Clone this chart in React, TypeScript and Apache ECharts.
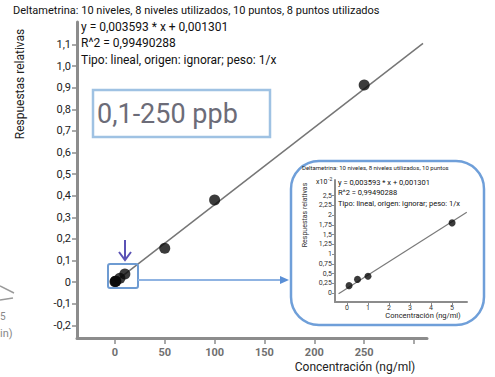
import React, { useEffect, useRef } from "react";
import * as echarts from "echarts";

// Main calibration (ng/ml vs relative response)
const mainX = [0.1, 0.5, 1, 5, 10, 50, 100, 250];
const mainY = [0.0019, 0.0035, 0.0043, 0.018, 0.037, 0.157, 0.38, 0.912];
const mainLineX = [0, 309];
const mainLineY = [0.001, 1.105];
const mainXTicks = [0, 50, 100, 150, 200, 250, 300];
const mainXLabels = [0, 50, 100, 150, 200, 250];
const mainYTicks = [-0.2, -0.1, 0, 0.1, 0.2, 0.3, 0.4, 0.5, 0.6, 0.7, 0.8, 0.9, 1.0, 1.1];

// Inset (x10^-2)
const insetX = [0.1, 0.5, 1, 5];
const insetY = [0.19, 0.35, 0.43, 1.8];
const insetLineX = [-0.4, 5.7];
const insetLineY = [-0.02, 2.07];
const insetXTicks = [0, 1, 2, 3, 4, 5];
const insetYTicks = [0, 0.25, 0.5, 0.75, 1, 1.25, 1.5, 1.75, 2, 2.25, 2.5];

const titleMain = "Deltametrina: 10 niveles, 8 niveles utilizados, 10 puntos, 8 puntos utilizados";
const titleInset = "Deltametrina: 10 niveles, 8 niveles utilizados, 10 puntos";
const eqLines = ["y = 0,003593 * x + 0,001301", "R^2 = 0,99490288", "Tipo: lineal, origen: ignorar; peso: 1/x"];
const rangeText = "0,1-250 ppb";
const yName = "Respuestas relativas";
const xName = "Concentración (ng/ml)";

const FONT = "Roboto, 'Noto Sans', sans-serif";

export default function App() {
  const ref = useRef<HTMLDivElement>(null);
  useEffect(() => {
    if (!ref.current) return;
    const chart = echarts.init(ref.current, null, { renderer: "svg" });
    const fmtMain = (v: number) => (Math.abs(v) < 1e-9 ? "0" : v.toFixed(1).replace(".", ","));
    const fmtInset = (v: number) => String(v).replace(".", ",");
    const axisGray = "#8c8c8c";
    const option: any = {
      animation: false,
      backgroundColor: "#ffffff",
      textStyle: { fontFamily: FONT },
      grid: [
        { left: 77, top: 22, width: 350, height: 316 },
        { left: 335, top: 180, width: 132, height: 122, z: 10 },
      ],
      xAxis: [
        {
          type: "value", gridIndex: 0, min: -38, max: 313,
          splitLine: { show: false },
          axisLine: { onZero: false, lineStyle: { color: axisGray, width: 3 } },
          axisTick: { customValues: mainXTicks, length: 6, lineStyle: { color: axisGray, width: 1.5 } },
          axisLabel: { customValues: mainXLabels, margin: 9, fontSize: 11, fontWeight: "bold", color: "#707070", fontFamily: FONT },
        },
        {
          type: "value", gridIndex: 1, min: -0.57, max: 5.71, z: 10,
          splitLine: { show: false },
          axisLine: { onZero: false, lineStyle: { color: axisGray, width: 2 } },
          axisTick: { customValues: insetXTicks, length: 3, lineStyle: { color: axisGray, width: 1 } },
          axisLabel: { customValues: insetXTicks, margin: 2, fontSize: 7, color: "#333", fontFamily: FONT },
        },
      ],
      yAxis: [
        {
          type: "value", gridIndex: 0, min: -0.259, max: 1.204,
          splitLine: { show: false },
          axisLine: { onZero: false, lineStyle: { color: axisGray, width: 3 } },
          axisTick: { customValues: mainYTicks, length: 5, lineStyle: { color: axisGray, width: 1.5 } },
          axisLabel: { customValues: mainYTicks, formatter: fmtMain, margin: 6, fontSize: 11, color: "#222", fontFamily: FONT },
        },
        {
          type: "value", gridIndex: 1, min: -0.23, max: 2.9, z: 10,
          splitLine: { show: false },
          axisLine: { onZero: false, lineStyle: { color: axisGray, width: 2 } },
          axisTick: { customValues: insetYTicks, length: 3, lineStyle: { color: axisGray, width: 1 } },
          axisLabel: { customValues: insetYTicks, formatter: fmtInset, margin: 3, fontSize: 7, color: "#333", fontFamily: FONT },
        },
      ],
      series: [
        {
          type: "line", xAxisIndex: 0, yAxisIndex: 0, showSymbol: false, z: 2,
          data: mainLineX.map((x, i) => [x, mainLineY[i]]),
          lineStyle: { color: "#767676", width: 1.5 },
        },
        {
          type: "scatter", xAxisIndex: 0, yAxisIndex: 0, symbolSize: 11, z: 3,
          data: mainX.map((x, i) => [x, mainY[i]]),
          itemStyle: { color: "#0a0a0a" },
        },
        {
          type: "line", xAxisIndex: 1, yAxisIndex: 1, showSymbol: false, z: 11,
          data: insetLineX.map((x, i) => [x, insetLineY[i]]),
          lineStyle: { color: "#7a7a7a", width: 1.2 },
        },
        {
          type: "scatter", xAxisIndex: 1, yAxisIndex: 1, symbolSize: 7, z: 12,
          data: insetX.map((x, i) => [x, insetY[i]]),
          itemStyle: { color: "#0a0a0a" },
        },
      ],
      graphic: [
        // left-side remnants
        { type: "line", z: 1, shape: { x1: 0, y1: 286, x2: 14, y2: 293 }, style: { stroke: "#9a9a9a", lineWidth: 1.5 } },
        { type: "line", z: 1, shape: { x1: 0, y1: 300, x2: 13, y2: 298 }, style: { stroke: "#9a9a9a", lineWidth: 1.5 } },
        { type: "text", z: 1, x: 0, y: 316, style: { text: "5", fill: "#888", font: `10px ${FONT}`, verticalAlign: "middle" } },
        { type: "text", z: 1, x: 0, y: 333, style: { text: "in)", fill: "#888", font: `11px ${FONT}`, verticalAlign: "middle" } },
        // titles and annotations
        { type: "text", z: 5, x: 13, y: 10, style: { text: titleMain, fill: "#111", font: `11px ${FONT}`, verticalAlign: "middle" } },
        { type: "text", z: 5, x: 81, y: 27, style: { text: eqLines[0], fill: "#111", font: `12px ${FONT}`, verticalAlign: "middle" } },
        { type: "text", z: 5, x: 81, y: 43, style: { text: eqLines[1], fill: "#111", font: `12px ${FONT}`, verticalAlign: "middle" } },
        { type: "text", z: 5, x: 81, y: 60, style: { text: eqLines[2], fill: "#111", font: `12px ${FONT}`, verticalAlign: "middle" } },
        { type: "text", z: 5, x: 20, y: 84, rotation: Math.PI / 2, style: { text: yName, fill: "#222", font: `12px ${FONT}`, align: "center", verticalAlign: "middle" } },
        { type: "text", z: 5, x: 355, y: 367, style: { text: xName, fill: "#222", font: `12px ${FONT}`, align: "center", verticalAlign: "middle" } },
        // range box
        { type: "rect", z: 5, shape: { x: 93, y: 90, width: 177, height: 47 }, style: { fill: "#fff", stroke: "#9fc2e3", lineWidth: 2.5 } },
        { type: "text", z: 6, x: 97, y: 114, style: { text: rangeText, fill: "#6c6c78", font: `27px ${FONT}`, verticalAlign: "middle" } },
        // zoom square & arrows
        { type: "rect", z: 5, shape: { x: 108, y: 264, width: 30, height: 24, r: 2 }, style: { fill: "none", stroke: "#6e9bd2", lineWidth: 2 } },
        { type: "line", z: 5, shape: { x1: 125, y1: 240, x2: 125, y2: 259 }, style: { stroke: "#5b52b5", lineWidth: 2 } },
        { type: "polyline", z: 5, shape: { points: [[119, 252], [125, 260], [131, 252]] }, style: { fill: "none", stroke: "#5b52b5", lineWidth: 2 } },
        { type: "line", z: 5, shape: { x1: 138, y1: 280, x2: 284, y2: 280 }, style: { stroke: "#8fb3e2", lineWidth: 1.8 } },
        { type: "polygon", z: 5, shape: { points: [[280, 276], [289, 280], [280, 284]] }, style: { fill: "#5a8fd6" } },
        // inset callout frame
        { type: "rect", z: 8, shape: { x: 291, y: 161, width: 193, height: 164, r: 28 }, style: { fill: "#ffffff", stroke: "#6f9fd9", lineWidth: 2.5 } },
        { type: "text", z: 20, x: 302, y: 167, style: { text: titleInset, fill: "#222", font: `6px ${FONT}`, verticalAlign: "middle" } },
        { type: "text", z: 20, x: 316, y: 182, style: { text: "x10", fill: "#222", font: `7px ${FONT}`, verticalAlign: "middle" } },
        { type: "text", z: 20, x: 328, y: 179, style: { text: "-2", fill: "#222", font: `5px ${FONT}`, verticalAlign: "middle" } },
        { type: "text", z: 20, x: 338, y: 182, style: { text: eqLines[0], fill: "#111", font: `7.5px ${FONT}`, verticalAlign: "middle" } },
        { type: "text", z: 20, x: 338, y: 192, style: { text: eqLines[1], fill: "#111", font: `7.5px ${FONT}`, verticalAlign: "middle" } },
        { type: "text", z: 20, x: 338, y: 203, style: { text: eqLines[2], fill: "#111", font: `7.5px ${FONT}`, verticalAlign: "middle" } },
        { type: "text", z: 20, x: 305, y: 215, rotation: Math.PI / 2, style: { text: yName, fill: "#333", font: `7px ${FONT}`, align: "center", verticalAlign: "middle" } },
        { type: "text", z: 20, x: 423, y: 315, style: { text: xName, fill: "#222", font: `7.5px ${FONT}`, align: "center", verticalAlign: "middle" } },
      ],
    };
    chart.setOption(option);
    return () => chart.dispose();
  }, []);
  return <div ref={ref} style={{ position: "fixed", left: 0, top: 0, width: 495, height: 377 }} />;
}
